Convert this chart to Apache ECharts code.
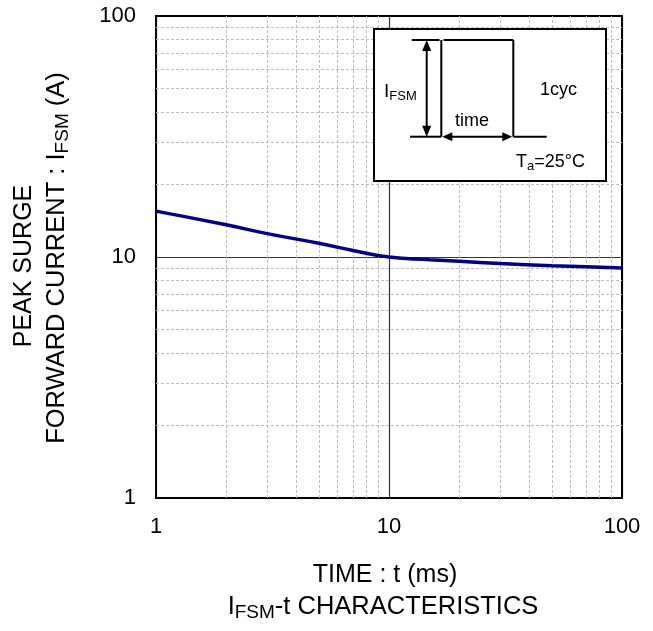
<!DOCTYPE html>
<html>
<head>
<meta charset="utf-8">
<script src="https://cdn.jsdelivr.net/npm/echarts@6/dist/echarts.min.js"></script>
<style>
html,body{margin:0;padding:0;background:#fff;}
#chart{width:653px;height:631px;}
</style>
</head>
<body>
<div id="chart"></div>
<script>
// Data
const timeMs = [1, 2, 3, 5, 7, 10, 15, 20, 30, 50, 70, 100];
const ifsmA = [15.5, 13.6, 12.5, 11.4, 10.65, 10.0, 9.75, 9.6, 9.4, 9.2, 9.1, 9.0];
const minorX = [2, 3, 4, 5, 6, 7, 8, 9, 20, 30, 40, 50, 60, 70, 80, 90];
const minorY = [2, 3, 4, 5, 6, 7, 8, 9, 20, 30, 40, 50, 60, 70, 80, 90];
const xTickLabels = ['1', '10', '100'];
const yTickLabels = ['1', '10', '100'];

const FONT = 'Liberation Sans, Arial, sans-serif';
const chart = echarts.init(document.getElementById('chart'));

const ink = '#000';
function line(x1, y1, x2, y2, w) {
  return { type: 'line', z: 101, shape: { x1, y1, x2, y2 }, style: { stroke: ink, lineWidth: w || 2 } };
}
function tri(points) {
  return { type: 'polygon', z: 102, shape: { points }, style: { fill: ink } };
}
const ax = 426.7, topY = 40, baseY = 136.7, pl = 441.3, pr = 513.3;

const option = {
  animation: false,
  backgroundColor: '#fff',
  grid: { left: 156, top: 16, width: 466, height: 482, show: true, borderColor: '#000', borderWidth: 2, backgroundColor: 'transparent', z: 3 },
  xAxis: {
    type: 'log', logBase: 10, min: 1, max: 100,
    axisLine: { show: false },
    axisTick: { show: false },
    axisLabel: {
      fontSize: 22, color: '#000', fontFamily: FONT, margin: 18,
      formatter: v => xTickLabels[Math.round(Math.log10(v))]
    },
    splitLine: { show: true, lineStyle: { color: '#333', width: 1.2 } }
  },
  yAxis: {
    type: 'log', logBase: 10, min: 1, max: 100,
    axisLine: { show: false },
    axisTick: { show: false },
    axisLabel: {
      fontSize: 22, color: '#000', fontFamily: FONT, margin: 20,
      formatter: v => yTickLabels[Math.round(Math.log10(v))]
    },
    splitLine: { show: true, lineStyle: { color: '#333', width: 1.2 } }
  },
  series: [
    {
      type: 'line', data: [], silent: true, z: 1,
      markLine: {
        silent: true, symbol: ['none', 'none'], animation: false,
        label: { show: false },
        lineStyle: { type: [3, 2], color: '#bdbdbd', width: 1 },
        emphasis: { disabled: true },
        data: [
          ...minorX.map(v => ({ xAxis: v })),
          ...minorY.map(v => ({ yAxis: v }))
        ]
      }
    },
    {
      type: 'line', z: 5,
      data: timeMs.map((t, i) => [t, ifsmA[i]]),
      smooth: 0.5, showSymbol: false, symbol: 'none',
      lineStyle: { color: '#000080', width: 3.5 }
    }
  ],
  graphic: [
    // x-axis titles
    { type: 'text', x: 385, y: 575, z: 10,
      style: { text: 'TIME : t (ms)', fontSize: 25, fontFamily: FONT, fill: '#000', align: 'center', verticalAlign: 'middle' } },
    { type: 'text', x: 383, y: 607, z: 10,
      style: { text: '{n|I}{s|FSM}{n|-t CHARACTERISTICS}', fontFamily: FONT, fill: '#000', align: 'center', verticalAlign: 'middle',
        rich: { n: { fontSize: 25.5, fontFamily: FONT, lineHeight: 30 }, s: { fontSize: 19, fontFamily: FONT, lineHeight: 14, verticalAlign: 'bottom' } } } },
    // y-axis titles
    { type: 'text', x: 24, y: 266, rotation: Math.PI / 2, z: 10,
      style: { text: 'PEAK SURGE', fontSize: 25, fontFamily: FONT, fill: '#000', align: 'center', verticalAlign: 'middle' } },
    { type: 'text', x: 57, y: 258, rotation: Math.PI / 2, z: 10,
      style: { text: '{n|FORWARD CURRENT : I}{s|FSM}{n| (A)}', fontFamily: FONT, fill: '#000', align: 'center', verticalAlign: 'middle',
        rich: { n: { fontSize: 25.5, fontFamily: FONT, lineHeight: 30 }, s: { fontSize: 19, fontFamily: FONT, lineHeight: 14, verticalAlign: 'bottom' } } } },
    // inset box
    { type: 'rect', z: 100, shape: { x: 374, y: 29, width: 232, height: 152 }, style: { fill: '#fff', stroke: '#000', lineWidth: 2 } },
    line(411.7, topY, 439.5, topY),
    line(pl, topY, pl, baseY),
    line(443.5, topY, pr, topY),
    line(pr, topY, pr, baseY),
    line(410, baseY, pl, baseY),
    line(pr, baseY, 546.7, baseY),
    // vertical double arrow
    line(ax, topY + 8, ax, baseY - 8),
    tri([[ax, topY], [ax - 4.5, topY + 11], [ax + 4.5, topY + 11]]),
    tri([[ax, baseY], [ax - 4.5, baseY - 11], [ax + 4.5, baseY - 11]]),
    // horizontal double arrow
    line(pl + 8, baseY, pr - 8, baseY),
    tri([[pl + 1, baseY], [pl + 11, baseY - 4.5], [pl + 11, baseY + 4.5]]),
    tri([[pr - 1, baseY], [pr - 11, baseY - 4.5], [pr - 11, baseY + 4.5]]),
    // inset texts
    { type: 'text', x: 384, y: 92, z: 103,
      style: { text: '{n|I}{s|FSM}', fontFamily: FONT, fill: '#000', align: 'left', verticalAlign: 'middle',
        rich: { n: { fontSize: 19, fontFamily: FONT, lineHeight: 22 }, s: { fontSize: 13, fontFamily: FONT, lineHeight: 10, verticalAlign: 'bottom' } } } },
    { type: 'text', x: 540, y: 90, z: 103,
      style: { text: '1cyc', fontSize: 18, fontFamily: FONT, fill: '#000', align: 'left', verticalAlign: 'middle' } },
    { type: 'text', x: 455, y: 121.5, z: 103,
      style: { text: 'time', fontSize: 18, fontFamily: FONT, fill: '#000', align: 'left', verticalAlign: 'middle' } },
    { type: 'text', x: 516, y: 162, z: 103,
      style: { text: '{n|T}{s|a}{n|=25°C}', fontFamily: FONT, fill: '#000', align: 'left', verticalAlign: 'middle',
        rich: { n: { fontSize: 18, fontFamily: FONT, lineHeight: 22 }, s: { fontSize: 13, fontFamily: FONT, lineHeight: 10, verticalAlign: 'bottom' } } } }
  ]
};
chart.setOption(option);
</script>
</body>
</html>
